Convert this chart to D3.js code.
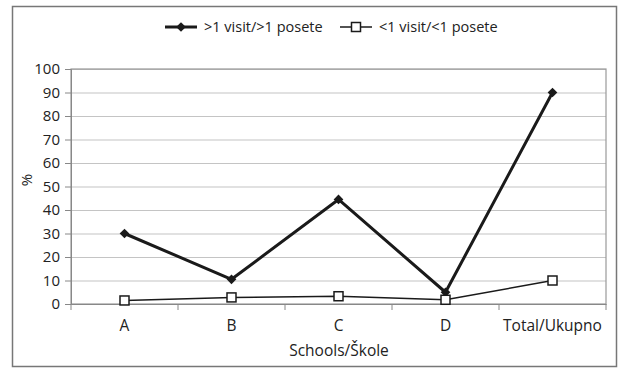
<!DOCTYPE html>
<html><head><meta charset="utf-8">
<script src="https://cdn.jsdelivr.net/npm/d3@7"></script>
<style>body{margin:0;background:#fff}svg{display:block}text{font-family:"Open Sans",sans-serif;fill:#222}</style>
</head><body><svg id="c" width="621" height="368"></svg>
<script>
const categories = ["A","B","C","D","Total/Ukupno"];
const moreThanOne = [30, 10.5, 44.5, 5, 90];
const lessThanOne = [1.5, 2.8, 3.3, 1.8, 10];
const yTicks = [0,10,20,30,40,50,60,70,80,90,100];
const seriesNames = [">1 visit/>1 posete", "<1 visit/<1 posete"];

const svg = d3.select("#c");
svg.append("rect").attr("x",12.5).attr("y",6.5).attr("width",604).attr("height",360)
  .attr("fill","#fff").attr("stroke","#777").attr("stroke-width",1.5);

const L=71, R=606, T=69, B=304;
const x = d3.scaleBand().domain(categories).range([L,R]);
const y = d3.scaleLinear().domain([0,100]).range([B,T]);

const g = svg.append("g");
g.selectAll("line.grid").data(yTicks.filter(d=>d>0)).join("line")
  .attr("x1",L).attr("x2",R).attr("y1",d=>y(d)+0.5).attr("y2",d=>y(d)+0.5)
  .attr("stroke","#c4c4c4").attr("stroke-width",1.2);
g.append("rect").attr("x",L).attr("y",T).attr("width",R-L).attr("height",B-T)
  .attr("fill","none").attr("stroke","#999").attr("stroke-width",1.2);

const ya = svg.append("g").attr("transform",`translate(${L},0)`)
  .call(d3.axisLeft(y).tickValues(yTicks).tickSize(6).tickPadding(5));
ya.select(".domain").attr("stroke","#888");
ya.selectAll(".tick line").attr("stroke","#888");
ya.selectAll("text").attr("font-size",15).attr("font-family","Open Sans").attr("fill","#222");

const xa = svg.append("g").attr("transform",`translate(0,${B})`)
  .call(d3.axisBottom(x).tickSize(0).tickPadding(16));
xa.select(".domain").attr("stroke","#888");
xa.selectAll("text").attr("font-size",15.5).attr("font-family","Open Sans").attr("fill","#222");
const bounds = categories.map(c=>x(c)).concat([R]);
svg.selectAll("line.xt").data(bounds).join("line")
  .attr("x1",d=>d).attr("x2",d=>d).attr("y1",B).attr("y2",B+6)
  .attr("stroke","#888");

const cx = c => x(c)+x.bandwidth()/2;
const line = d3.line().x((d,i)=>cx(categories[i])).y(d=>y(d));

svg.append("path").datum(moreThanOne).attr("d",line).attr("fill","none")
  .attr("stroke","#1a1a1a").attr("stroke-width",3).attr("stroke-linejoin","round");
svg.append("path").datum(lessThanOne).attr("d",line).attr("fill","none")
  .attr("stroke","#1a1a1a").attr("stroke-width",1.5);

const diamond = d3.symbol().type(d3.symbolDiamond2).size(60);
svg.selectAll("path.d1").data(moreThanOne).join("path")
  .attr("transform",(d,i)=>`translate(${cx(categories[i])},${y(d)})`)
  .attr("d",diamond).attr("fill","#1a1a1a");
svg.selectAll("rect.s2").data(lessThanOne).join("rect")
  .attr("x",(d,i)=>cx(categories[i])-4.5).attr("y",d=>y(d)-4.5)
  .attr("width",9).attr("height",9).attr("fill","#fff").attr("stroke","#1a1a1a").attr("stroke-width",1.5);

svg.append("text").attr("transform","translate(32,180) rotate(-90)")
  .attr("text-anchor","middle").attr("font-size",15).text("%");
svg.append("text").attr("x",339).attr("y",356).attr("text-anchor","middle")
  .attr("font-size",15.5).text("Schools/Škole");

const lg = svg.append("g");
const items = [{x:165, name:seriesNames[0], t:0},{x:340, name:seriesNames[1], t:1}];
items.forEach(it=>{
  const ly=27;
  lg.append("line").attr("x1",it.x).attr("x2",it.x+32).attr("y1",ly).attr("y2",ly)
    .attr("stroke","#1a1a1a").attr("stroke-width",it.t===0?3:1.5);
  if(it.t===0){
    lg.append("path").attr("transform",`translate(${it.x+16},${ly})`).attr("d",diamond).attr("fill","#1a1a1a");
  } else {
    lg.append("rect").attr("x",it.x+16-4.5).attr("y",ly-4.5).attr("width",9).attr("height",9)
      .attr("fill","#fff").attr("stroke","#1a1a1a").attr("stroke-width",1.5);
  }
  lg.append("text").attr("x",it.x+39).attr("y",ly+5).attr("font-size",14.5).text(it.name);
});
</script></body></html>
